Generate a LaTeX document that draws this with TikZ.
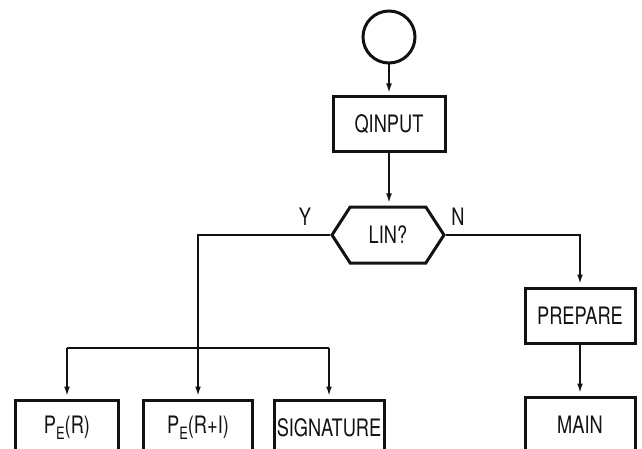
\documentclass[tikz,border=0pt]{standalone}
\usepackage{fontspec}
\newfontfamily\flowfont{TeX Gyre Heros}[FakeStretch=0.76]
\usetikzlibrary{arrows.meta,shapes.symbols}
\definecolor{flowInk}{RGB}{18,18,18}
\newcommand{\subE}{\raisebox{-0.5ex}{\fontsize{17}{17}\selectfont E}}

\begin{document}
\begin{tikzpicture}[x=1pt,y=-1pt,color=flowInk,
  flowBox/.style={draw,line width=3pt,minimum width=110pt,minimum height=55pt,inner sep=0pt,
    font=\flowfont\fontsize{24}{24}\selectfont},
  flowTest/.style={flowBox,shape=signal,signal to=west and east,signal pointer angle=114,
    minimum width=112pt,minimum height=56pt},
  flowStart/.style={draw,circle,line width=3pt,minimum size=52pt,inner sep=0pt},
  flowLabel/.style={font=\flowfont\fontsize{24}{24}\selectfont,inner sep=0pt},
  flowLine/.style={line width=2.4pt,-{Latex[length=12pt,width=5.5pt]}}]
\useasboundingbox (0,0) rectangle (642,449);
\clip (0,0) rectangle (642,449);
\node[flowStart] (start) at (389,37) {};
\node[flowBox,minimum width=112pt] (qinput) at (389,124.5) {QINPUT};
\node[flowTest] (lin) at (388,235) {LIN?};
\node[flowLabel] (ylab) at (305,217) {Y};
\node[flowLabel] (nlab) at (458,217) {N};
\node[flowBox] (prepare) at (580,315.5) {PREPARE};
\node[flowBox] (main) at (580,424.5) {MAIN};
% left branch, three boxes cut by the lower edge
\node[flowBox,minimum width=103pt] (pr) at (67,427.5) {P\subE(R)};
\node[flowBox,minimum width=109pt] (pri) at (198,427.5) {P\subE(R+I)};
\node[flowBox] (sig) at (329,427.5) {SIGNATURE};
\coordinate (ybus) at (198,348);
\draw[flowLine] (start) -- (qinput);
\draw[flowLine] (qinput) -- (qinput |- lin.north);
\draw[line width=2.4pt] (lin.west) -| (ybus);
\draw[line width=2.4pt] (pr |- ybus) -- (sig |- ybus);
\foreach \b in {pr,pri,sig}
  \draw[flowLine] (\b |- ybus) -- (\b.north);
% right branch
\draw[flowLine] (lin.east) -| (prepare.north);
\draw[flowLine] (prepare) -- (main);
\end{tikzpicture}
\end{document}
